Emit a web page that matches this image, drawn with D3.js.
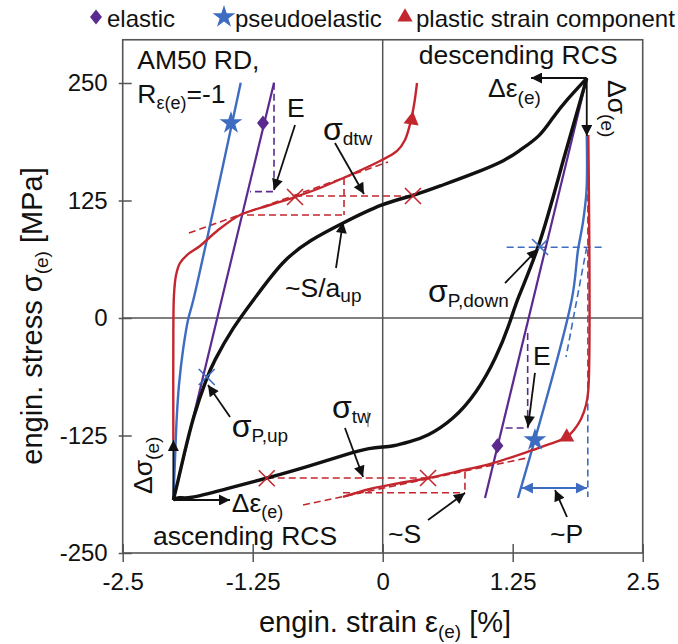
<!DOCTYPE html>
<html>
<head>
<meta charset="utf-8">
<script src="https://cdn.jsdelivr.net/npm/d3@7"></script>
<style>
  body { margin: 0; background: #fff; }
  text { font-family: "Liberation Sans", Arial, sans-serif; fill: #111; }
</style>
</head>
<body>
<div id="chart"></div>
<script>
//----------DATA----------
var xTicks = [-2.5, -1.25, 0, 1.25, 2.5];
var yTicks = [-250, -125, 0, 125, 250];

// total response (black), strain %, stress MPa
var blackUp = [[-2.013,-193.6],[-1.959,-189.9],[-1.885,-193.1],[-1.507,-181.9],[-1.115,-170.5],[-0.699,-157.4],
  [-0.314,-143.6],[-0.122,-138.3],[0.003,-137.2],[0.089,-136.7],[0.263,-131.6],[0.423,-126.3],[0.676,-108.5],
  [0.904,-79.8],[1.096,-41.2],[1.224,-5.3],[1.288,19.1],[1.513,75.9],[1.734,168.1],[1.962,255.0]];
var blackDown = [[1.962,255.0],[1.769,231.9],[1.638,213.8],[1.513,192.9],[1.320,178.7],[1.192,168.1],[0.868,153.2],
  [0.551,140.4],[0.291,129.8],[0.003,122.3],[-0.382,101.1],[-0.699,83.0],[-0.959,61.7],[-1.228,21.3],[-1.439,-9.6],
  [-1.632,-47.9],[-1.689,-62.8],[-1.824,-105.3],[-1.911,-145.7],[-1.981,-179.5],[-2.013,-193.6]];

// plastic strain component (red)
var redUp = [[-2.013,-129.8],[-2.013,-12.8],[-2.007,24.5],[-1.987,45.7],[-1.949,58.5],[-1.882,67.0],[-1.757,76.6],
  [-1.593,92.6],[-1.372,109.6],[-1.084,120.2],[-0.843,128.7],[-0.603,138.3],[-0.314,152.1],[-0.026,167.0],
  [0.138,177.7],[0.214,189.4],[0.263,206.4],[0.301,226.6],[0.330,250.0]];
var redDown = [[1.977,194.7],[1.977,-76.6],[1.955,-92.6],[1.907,-107.4],[1.839,-119.1],[1.769,-126.6],[1.609,-134.0],
  [1.445,-140.4],[1.060,-154.3],[0.711,-163.5],[0.436,-170.2],[0.166,-175.5],[-0.122,-181.9],[-0.382,-190.4]];

// pseudoelastic (blue)
var blueUp = [[-2.013,-193.6],[-2.001,-161.7],[-1.980,-105.3],[-1.959,-71.3],[-1.920,-34.0],[-1.872,-2.1],
  [-1.821,19.1],[-1.365,250.3]];
var blueDown = [[1.962,193.6],[1.960,136.2],[1.926,102.1],[1.878,72.3],[1.817,19.1],[1.301,-191.5]];

// elastic (purple)
var purpleUp = [[-2.013,-193.6],[-1.045,250.3]];
var purpleDown = [[1.962,255.0],[0.984,-191.5]];

// markers (triangles carry a rotation in degrees)
var stars = [[-1.459,207.4],[1.464,-129.8]];
var diamonds = [[-1.151,207.4],[1.103,-135.9]];
var triangles = [[0.279,210.6,8],[1.769,-126.6,-120]];
var redCrosses = [[-1.115,-170.5],[0.436,-170.2],[-0.843,128.7],[0.291,129.8]];
var blueCrosses = [[-1.692,-62.8],[1.513,75.5]];

// construction lines
var redDashed = [
  [[-0.843,129.8],[0.291,129.8]], [[-1.305,109.6],[-0.372,109.6]], [[-0.372,148.9],[-0.372,109.6]],
  [[-1.115,-170.2],[0.436,-170.2]], [[-0.382,-185.9],[0.791,-185.9]], [[0.791,-163.5],[0.791,-185.9]],
  [[-1.863,90.4],[0.051,166.0]], [[-0.766,-198.9],[1.388,-148.9]]];
var purpleDashed = [
  [[-1.045,250.3],[-1.045,134.4],[-1.276,134.4]],
  [[1.394,-16.0],[1.394,-117.0],[1.144,-117.0]]];
var blueDashed = [
  [[1.192,75.2],[2.106,75.2]], [[1.972,190.0],[1.972,-190.4]], [[1.962,75.5],[1.763,-41.5]]];
var blueSpan = [[1.339,-180.9],[1.964,-180.9]];

// annotation arrows [from, to]
var arrows = [
  [[-0.843,205.3],[-1.045,136.2]], [[-0.459,186.2],[-0.180,131.9]], [[-0.449,53.2],[-0.382,102.1]],
  [[1.176,37.2],[1.493,73.4]], [[-1.468,-105.3],[-1.680,-71.3]], [[-0.363,-117.0],[-0.189,-169.1]],
  [[1.464,-58.5],[1.397,-116.0]], [[0.436,-214.9],[0.791,-186.2]], [[1.772,-211.7],[1.657,-183.0]],
  [[1.962,255.3],[1.426,255.3]], [[1.962,255.3],[1.962,193.6]],
  [[-2.013,-193.6],[-2.013,-129.8]], [[-2.013,-193.6],[-1.468,-193.6]]];

// annotation texts: [x, y, parts, rotation]
var labels = [
  [-2.36, 264.6, [['AM50 RD,', 26.5]]],
  [-2.36, 228.7, [['R', 26.5], ['ε(e)', 18, 6], ['=-1', 26.5, -6]]],
  [0.346, 270.2, [['descending RCS', 26.5]]],
  [-2.209, -241.5, [['ascending RCS', 26.5]]],
  [1.013, 235.4, [['Δε', 26.5], ['(e)', 19, 7]]],
  [2.168, 253.2, [['Δσ', 26.5], ['(e)', 19, 7]], 90],
  [-2.214, -187.2, [['Δσ', 26.5], ['(e)', 19, 7]], -90],
  [-1.452, -206.0, [['Δε', 26.5], ['(e)', 18, 6]]],
  [-0.920, 213.8, [['E', 26.5]]],
  [-0.574, 189.4, [['σ', 32], ['dtw', 19, 5]]],
  [-0.939, 22.3, [['~S/a', 26.5], ['up', 19, 5]]],
  [0.436, 17.0, [['σ', 32], ['P,down', 19, 5]]],
  [-1.452, -126.6, [['σ', 32], ['P,up', 19, 5]]],
  [-0.488, -106.4, [['σ', 32], ['tw', 19, 5]]],
  [1.446, -50.0, [['E', 26.5]]],
  [0.051, -239.4, [['~S', 26.5]]],
  [1.609, -239.4, [['~P', 26.5]]]];

var legendItems = [
  {name: 'elastic', symbol: 'diamond', color: '#5b2a8e', x: 96},
  {name: 'pseudoelastic', symbol: 'star', color: '#3d6cc0', x: 224},
  {name: 'plastic strain component', symbol: 'triangle', color: '#c4262e', x: 405}];

//----------SVG----------
var svgWidth = 678;
var svgHeight = 644;
var purple = '#5b2a8e', blue = '#3d6cc0', red = '#c4262e', grey = '#555';

var svg = d3.select('#chart')
  .append('svg')
  .attr('width', svgWidth)
  .attr('height', svgHeight);

var defs = svg.append('defs');
function addHead(id, color, w, h) {
  defs.append('marker')
    .attr('id', id)
    .attr('viewBox', '0 0 10 10')
    .attr('refX', 10).attr('refY', 5)
    .attr('markerWidth', w).attr('markerHeight', h)
    .attr('markerUnits', 'userSpaceOnUse')
    .attr('orient', 'auto-start-reverse')
    .append('path').attr('d', 'M0,0L10,5L0,10Z').attr('fill', color);
}
addHead('headK', '#111', 14, 11);
addHead('headB', blue, 14, 11);

var xScale = d3.scaleLinear().domain([-2.5, 2.5]).range([122.7, 642.7]);
var yScale = d3.scaleLinear().domain([-250, 250]).range([553, 83]);
var yTop = 296;

var g = svg.append('g');

// frame and zero lines
g.append('rect')
  .attr('x', xScale(-2.5)).attr('y', yScale(yTop))
  .attr('width', xScale(2.5) - xScale(-2.5)).attr('height', yScale(-250) - yScale(yTop))
  .attr('fill', 'none').attr('stroke', grey).attr('stroke-width', 1.6);
g.append('line')
  .attr('x1', xScale(0)).attr('x2', xScale(0)).attr('y1', yScale(yTop)).attr('y2', yScale(-250))
  .attr('stroke', grey).attr('stroke-width', 1.5);
g.append('line')
  .attr('x1', xScale(-2.5)).attr('x2', xScale(2.5)).attr('y1', yScale(0)).attr('y2', yScale(0))
  .attr('stroke', grey).attr('stroke-width', 1.5);

// axes (ticks cross the axis line)
function styleAxis(sel) {
  sel.select('.domain').remove();
  sel.selectAll('line').attr('stroke', grey).attr('stroke-width', 1.5);
  sel.selectAll('text').attr('font-size', 24).attr('fill', '#111')
    .attr('font-family', '"Liberation Sans", Arial, sans-serif');
}
g.append('g').attr('transform', `translate(${xScale(-2.5)},0)`)
  .call(d3.axisLeft(yScale).tickValues(yTicks).tickSize(4).tickPadding(11).tickFormat(d => d))
  .call(styleAxis);
g.append('g').attr('transform', `translate(${xScale(-2.5)},0)`)
  .call(d3.axisRight(yScale).tickValues(yTicks).tickSize(9).tickFormat(''))
  .call(styleAxis);
g.append('g').attr('transform', `translate(0,${yScale(-250)})`)
  .call(d3.axisBottom(xScale).tickValues(xTicks).tickSize(9).tickPadding(11).tickFormat(d => d))
  .call(styleAxis);
g.append('g').attr('transform', `translate(0,${yScale(-250)})`)
  .call(d3.axisTop(xScale).tickValues(xTicks).tickSize(9).tickFormat(''))
  .call(styleAxis);

// axis titles
var xTitle = g.append('text')
  .attr('x', 385).attr('y', 632).attr('text-anchor', 'middle').attr('font-size', 29);
xTitle.append('tspan').text('engin. strain ε');
xTitle.append('tspan').attr('font-size', 19).attr('dy', 6).text('(e)');
xTitle.append('tspan').attr('dy', -6).text(' [%]');

var yTitle = g.append('text')
  .attr('transform', 'translate(42,316) rotate(-90)').attr('text-anchor', 'middle').attr('font-size', 29);
yTitle.append('tspan').text('engin. stress σ');
yTitle.append('tspan').attr('font-size', 19).attr('dy', 6).text('(e)');
yTitle.append('tspan').attr('dy', -6).text(' [MPa]');

//----------PLOT----------
var line = d3.line().x(d => xScale(d[0])).y(d => yScale(d[1]));
var smooth = d3.line().x(d => xScale(d[0])).y(d => yScale(d[1])).curve(d3.curveCatmullRom.alpha(0.5));
var soft = d3.line().x(d => xScale(d[0])).y(d => yScale(d[1])).curve(d3.curveBasis);

function dashed(list, color) {
  list.forEach(function(seg) {
    g.append('path').attr('d', line(seg)).attr('fill', 'none')
      .attr('stroke', color).attr('stroke-width', 1.6).attr('stroke-dasharray', '7,4');
  });
}
dashed(redDashed, red);
dashed(purpleDashed, purple);
dashed(blueDashed, blue);

[[purpleUp, purple], [purpleDown, purple]].forEach(function(c) {
  g.append('path').attr('d', line(c[0])).attr('fill', 'none').attr('stroke', c[1]).attr('stroke-width', 2.2);
});
[[blueUp, blue], [blueDown, blue], [redUp, red], [redDown, red]].forEach(function(c) {
  g.append('path').attr('d', smooth(c[0])).attr('fill', 'none').attr('stroke', c[1]).attr('stroke-width', 2.4);
});
[blackUp, blackDown].forEach(function(c) {
  g.append('path').attr('d', soft(c)).attr('fill', 'none').attr('stroke', '#111').attr('stroke-width', 3.4);
});

// blue span arrow
g.append('path').attr('d', line(blueSpan)).attr('stroke', blue).attr('stroke-width', 2)
  .attr('marker-start', 'url(#headB)').attr('marker-end', 'url(#headB)');

// crosses
function crosses(list, color) {
  list.forEach(function(p) {
    var cx = xScale(p[0]), cy = yScale(p[1]), s = 8;
    g.append('path').attr('d', `M${cx - s},${cy - s}L${cx + s},${cy + s}M${cx - s},${cy + s}L${cx + s},${cy - s}`)
      .attr('stroke', color).attr('stroke-width', 1.6);
  });
}
crosses(redCrosses, red);
crosses(blueCrosses, blue);

// curve markers
var symStar = d3.symbol().type(d3.symbolStar).size(160);
var diamondPath = 'M0,-7.5L6,0L0,7.5L-6,0Z';
var symTriangle = d3.symbol().type(d3.symbolTriangle).size(100);
stars.forEach(p => g.append('path').attr('d', symStar())
  .attr('transform', `translate(${xScale(p[0])},${yScale(p[1])})`).attr('fill', blue));
diamonds.forEach(p => g.append('path').attr('d', diamondPath)
  .attr('transform', `translate(${xScale(p[0])},${yScale(p[1])})`).attr('fill', purple));
triangles.forEach(p => g.append('path').attr('d', symTriangle())
  .attr('transform', `translate(${xScale(p[0])},${yScale(p[1])}) rotate(${p[2]})`).attr('fill', red));

// annotation arrows
arrows.forEach(function(a) {
  g.append('path').attr('d', line(a)).attr('stroke', '#111').attr('stroke-width', 1.8)
    .attr('marker-end', 'url(#headK)');
});

// annotation texts
labels.forEach(function(l) {
  var tr = `translate(${xScale(l[0])},${yScale(l[1])})` + (l[3] ? ` rotate(${l[3]})` : '');
  var t = g.append('text').attr('transform', tr);
  l[2].forEach(p => t.append('tspan').attr('font-size', p[1]).attr('dy', p[2] || 0).text(p[0]));
});
// stray bar after sigma_tw
g.append('line')
  .attr('x1', 368).attr('x2', 368).attr('y1', 412).attr('y2', 427)
  .attr('stroke', '#555').attr('stroke-width', 1);

// legend
var legend = svg.append('g');
legendItems.forEach(function(it) {
  var p = legend.append('path').attr('transform', `translate(${it.x},17)`).attr('fill', it.color);
  if (it.symbol === 'star') p.attr('d', symStar());
  else if (it.symbol === 'diamond') p.attr('d', diamondPath);
  else p.attr('d', symTriangle());
  legend.append('text').attr('x', it.x + 11).attr('y', 27).attr('font-size', 24).text(it.name);
});
</script>
</body>
</html>
